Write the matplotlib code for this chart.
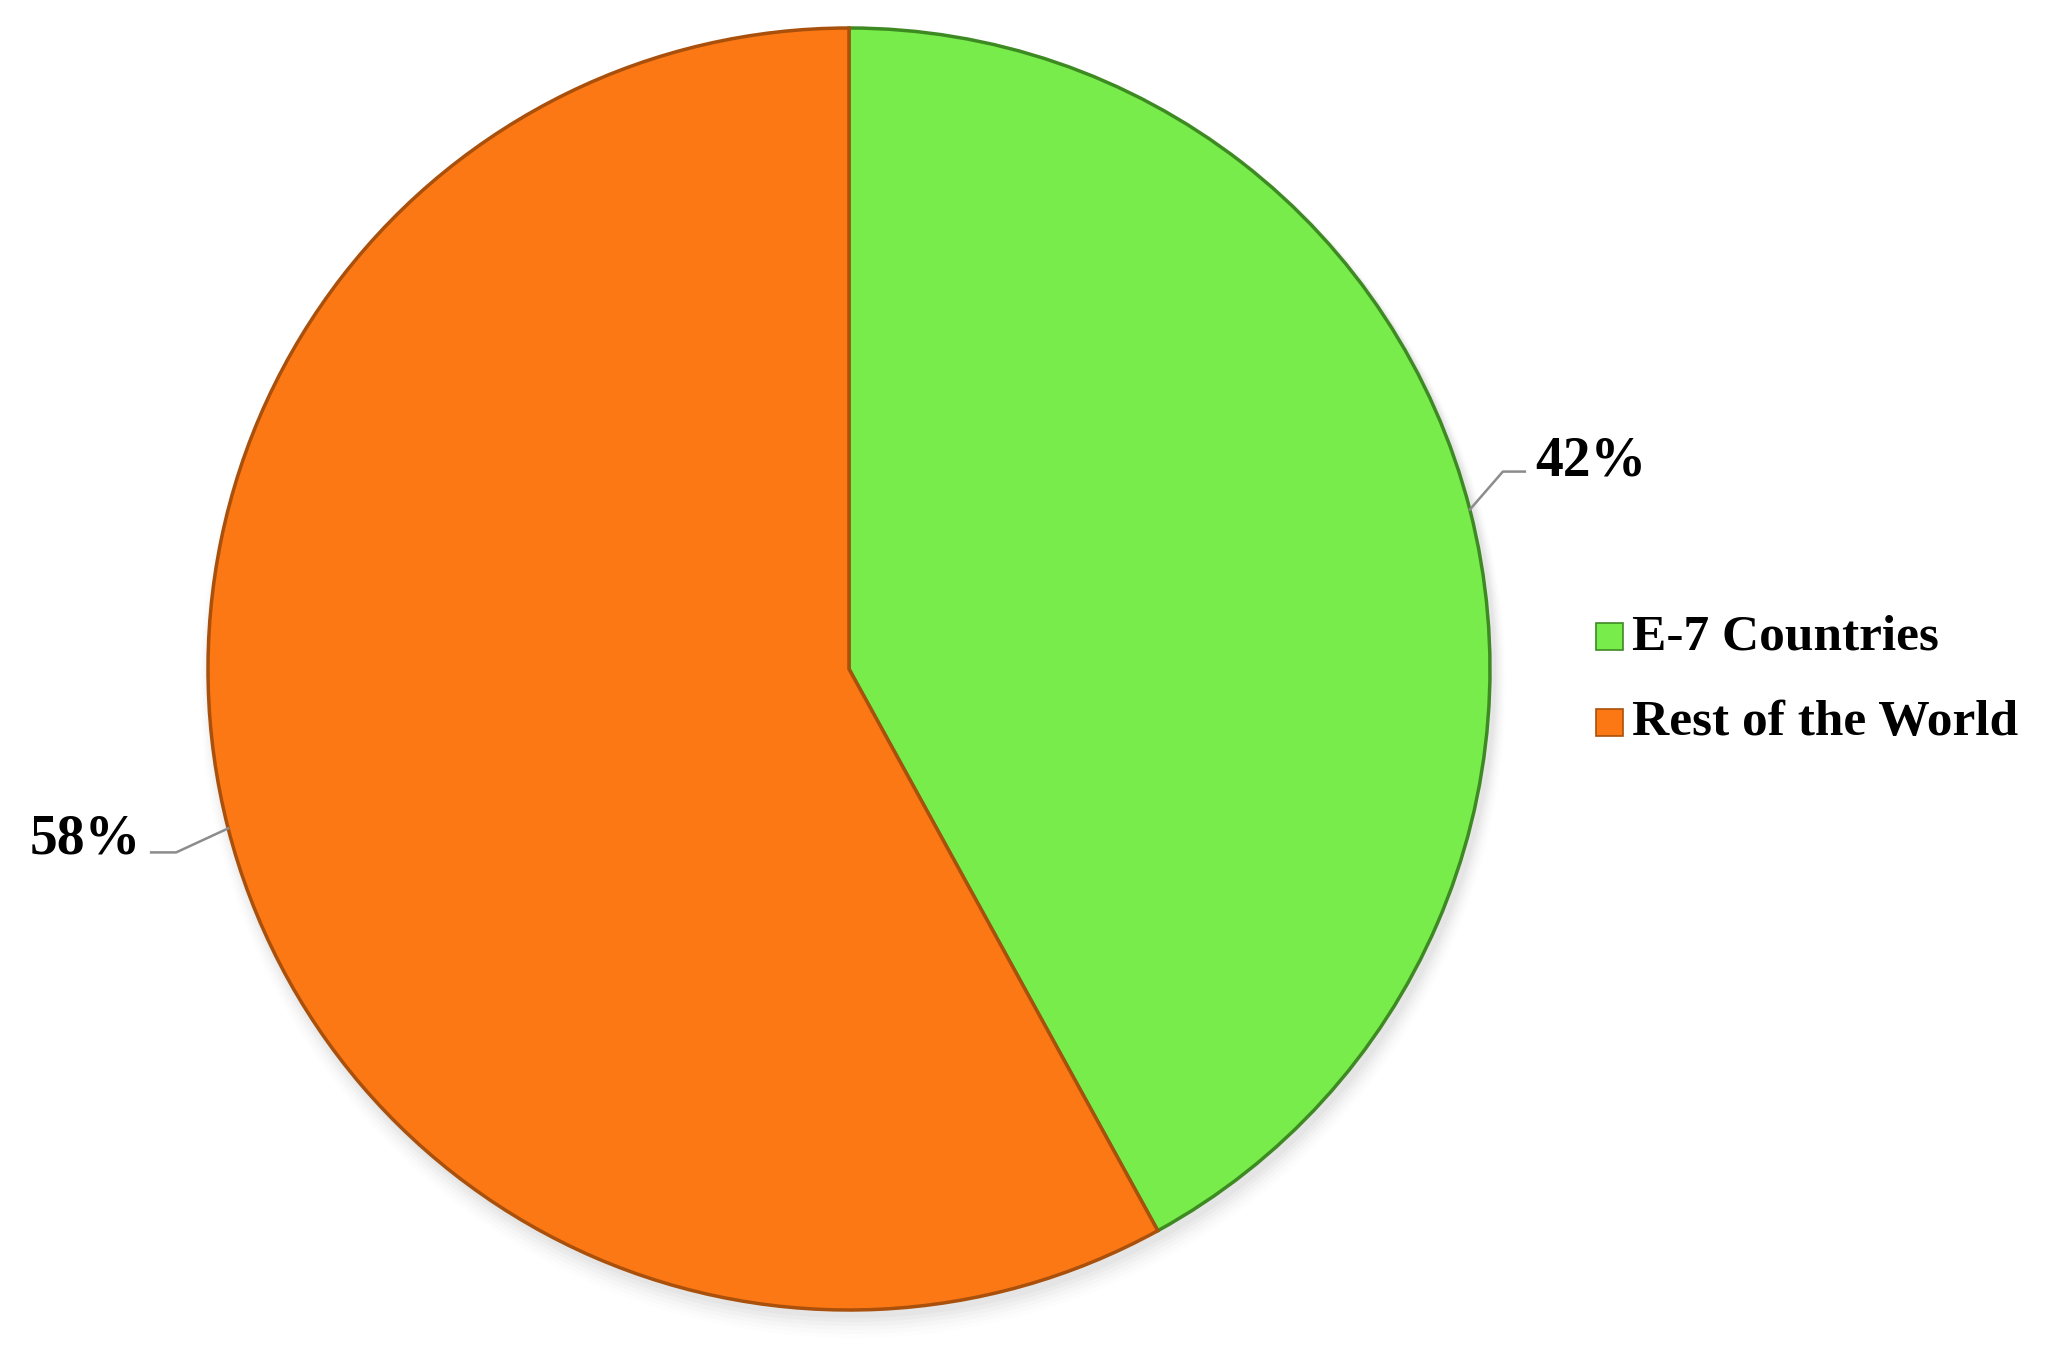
import numpy as np
import matplotlib.pyplot as plt
from matplotlib.patches import Rectangle

labels = ['E-7 Countries', 'Rest of the World']
shares = [42, 58]
colors = ['#77EC4B', '#FC7814']
edges = ['#3E8A22', '#A9500C']

W, H = 2056, 1355
fig = plt.figure(figsize=(W / 100, H / 100), dpi=100)
ax = fig.add_axes([0, 0, 1, 1])

cx, cy, r = 849, H - 669, 641

# soft shadow under the pie
for i, a in enumerate(np.linspace(0.05, 0.01, 6)):
    ax.add_patch(plt.Circle((cx + 4, cy - 6 - i * 2), r + 2 + i * 2, color='grey', alpha=a, lw=0, zorder=0))

wedges, _ = ax.pie(shares, colors=colors, startangle=90, counterclock=False,
                   center=(cx, cy), radius=r, frame=True,
                   wedgeprops=dict(linewidth=2.5, edgecolor='none'))
for w, ec in zip(wedges, edges):
    w.set_edgecolor(ec)
    w.set_zorder(2)
ax.set_xlim(0, W)
ax.set_ylim(0, H)
ax.set_aspect('equal')
ax.axis('off')

# percentage labels with leader lines
font = dict(family='Liberation Serif', weight='bold', size=40, color='black')
for w, s in zip(wedges, shares):
    ang = np.deg2rad((w.theta1 + w.theta2) / 2)
    x0, y0 = cx + r * np.cos(ang), cy + r * np.sin(ang)
    if np.cos(ang) > 0:
        x1, y1 = x0 + 33, y0 + 38
        x2 = x1 + 22
        ax.plot([x0, x1, x2], [y0, y1, y1], color='#8c8c8c', lw=1.8, zorder=3)
        ax.text(x2 + 10, y1 + 10, f'{s}%', ha='left', va='center', **font)
    else:
        x1, y1 = x0 - 52, y0 - 24
        x2 = x1 - 25
        ax.plot([x0, x1, x2], [y0, y1, y1], color='#8c8c8c', lw=1.8, zorder=3)
        ax.text(x2 - 10, y1 + 13, f'{s}%', ha='right', va='center', **font)

# legend
lx, ly0, dy = 1596, H - 637, 86
for i, (lab, c, ec) in enumerate(zip(labels, colors, edges)):
    y = ly0 - i * dy
    ax.add_patch(Rectangle((lx, y - 13), 27, 27, facecolor=c, edgecolor=ec, lw=1.2))
    ax.text(lx + 36, y, lab, ha='left', va='center', family='Liberation Serif',
            weight='bold', size=37, color='black')

fig.savefig('out.png', dpi=100, facecolor='white')
